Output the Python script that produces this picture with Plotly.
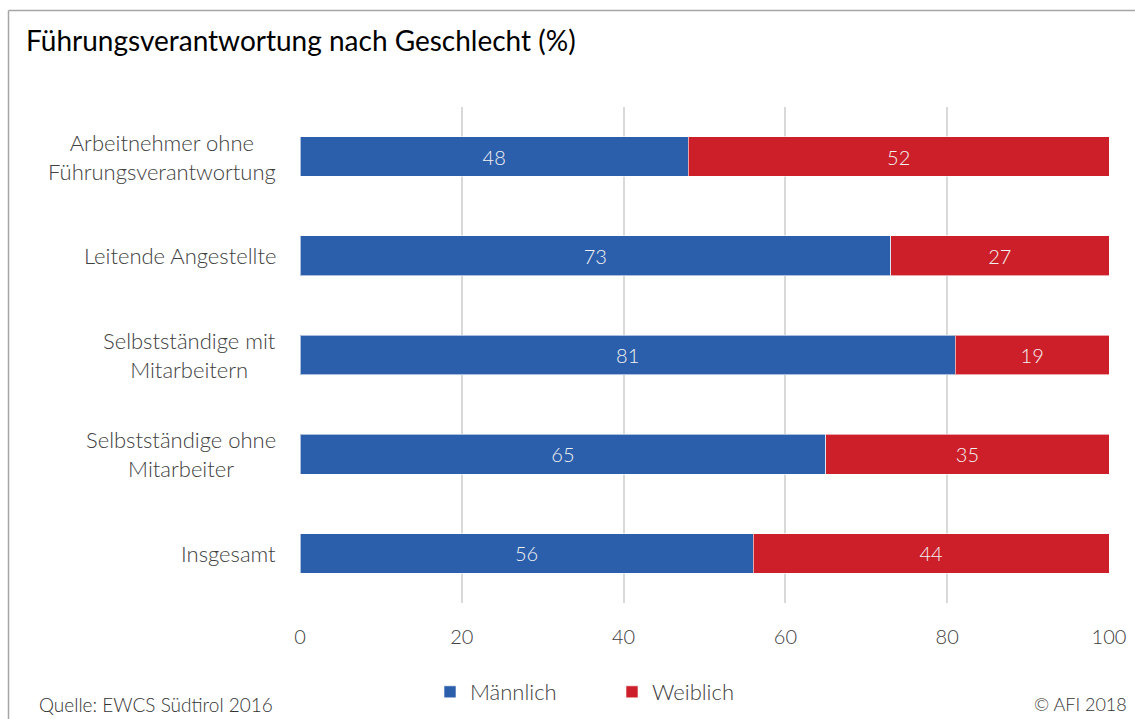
import plotly.graph_objects as go

categories = [
    "Arbeitnehmer ohne<br>Führungsverantwortung",
    "Leitende Angestellte",
    "Selbstständige mit<br>Mitarbeitern",
    "Selbstständige ohne<br>Mitarbeiter",
    "Insgesamt",
]
maennlich = [48, 73, 81, 65, 56]
weiblich = [52, 27, 19, 35, 44]
x_ticks = [0, 20, 40, 60, 80, 100]

W, H = 1135, 719
L, R, T, B = 300, 26, 107, 116
pw, ph = W - L - R, H - T - B

def px_x(x):
    return (x - L) / pw

def px_y(y):
    return 1 - (y - T) / ph

FONT = "Lato"
BLUE = "#2B5EAB"
RED = "#CD1F29"

fig = go.Figure()
fig.add_trace(go.Bar(
    y=categories, x=maennlich, orientation="h", name="Männlich",
    marker=dict(color=BLUE, line=dict(color="rgba(255,255,255,0.6)", width=1)),
    text=maennlich, textposition="inside", insidetextanchor="middle",
    textfont=dict(color="#F2F2F2", size=20, family=FONT, weight=300),
    width=0.4,
))
fig.add_trace(go.Bar(
    y=categories, x=weiblich, orientation="h", name="Weiblich",
    marker=dict(color=RED, line=dict(color="rgba(255,255,255,0.6)", width=1)),
    text=weiblich, textposition="inside", insidetextanchor="middle",
    textfont=dict(color="#F2F2F2", size=20, family=FONT, weight=300),
    width=0.4,
))

annotations = []
for c in categories:
    annotations.append(dict(
        x=px_x(278), xref="paper", xanchor="right", y=c, yref="y",
        text=c, showarrow=False, align="center",
        font=dict(family=FONT, size=22, color="#404040", weight=300),
    ))
annotations += [
    dict(x=px_x(24), xref="paper", xanchor="left", y=px_y(40), yref="paper", yanchor="middle",
         text="Führungsverantwortung nach Geschlecht (%)", showarrow=False,
         font=dict(family=FONT, size=28, color="#000000")),
    dict(x=px_x(37), xref="paper", xanchor="left", y=px_y(704), yref="paper", yanchor="middle",
         text="Quelle: EWCS Südtirol 2016", showarrow=False,
         font=dict(family=FONT, size=19, color="#333333", weight=300)),
    dict(x=px_x(1129), xref="paper", xanchor="right", y=px_y(704), yref="paper", yanchor="middle",
         text="© AFI 2018", showarrow=False,
         font=dict(family=FONT, size=18, color="#333333", weight=300)),
]

shapes = [
    dict(type="line", xref="paper", yref="paper",
         x0=px_x(8.5), x1=px_x(8.5), y0=px_y(730), y1=px_y(10.5),
         line=dict(color="#A6A6A6", width=1.5)),
    dict(type="line", xref="paper", yref="paper",
         x0=px_x(8.5), x1=px_x(1135), y0=px_y(10.5), y1=px_y(10.5),
         line=dict(color="#A6A6A6", width=1.5)),
]

fig.update_layout(
    width=W, height=H,
    margin=dict(l=L, r=R, t=T, b=B, autoexpand=False),
    barmode="stack",
    bargap=0.6,
    plot_bgcolor="white", paper_bgcolor="white",
    font=dict(family=FONT, color="#404040"),
    xaxis=dict(range=[0, 100], tickvals=x_ticks, showgrid=True, gridcolor="#D9D9D9",
               gridwidth=1.5, zeroline=False, showline=False, automargin=False,
               tickfont=dict(family=FONT, size=20, color="#404040", weight=300),
               ticklabelstandoff=20, fixedrange=True),
    yaxis=dict(autorange="reversed", showticklabels=False, showgrid=False, automargin=False,
               zeroline=False, showline=False, fixedrange=True),
    legend=dict(orientation="h", x=px_x(430), xanchor="left", y=px_y(692), yanchor="middle",
                font=dict(family=FONT, size=22, color="#404040", weight=300),
                traceorder="normal", itemwidth=30, entrywidth=137,
                bgcolor="rgba(0,0,0,0)"),
    annotations=annotations,
    shapes=shapes,
    showlegend=True,
)

fig.write_html("out.html")
